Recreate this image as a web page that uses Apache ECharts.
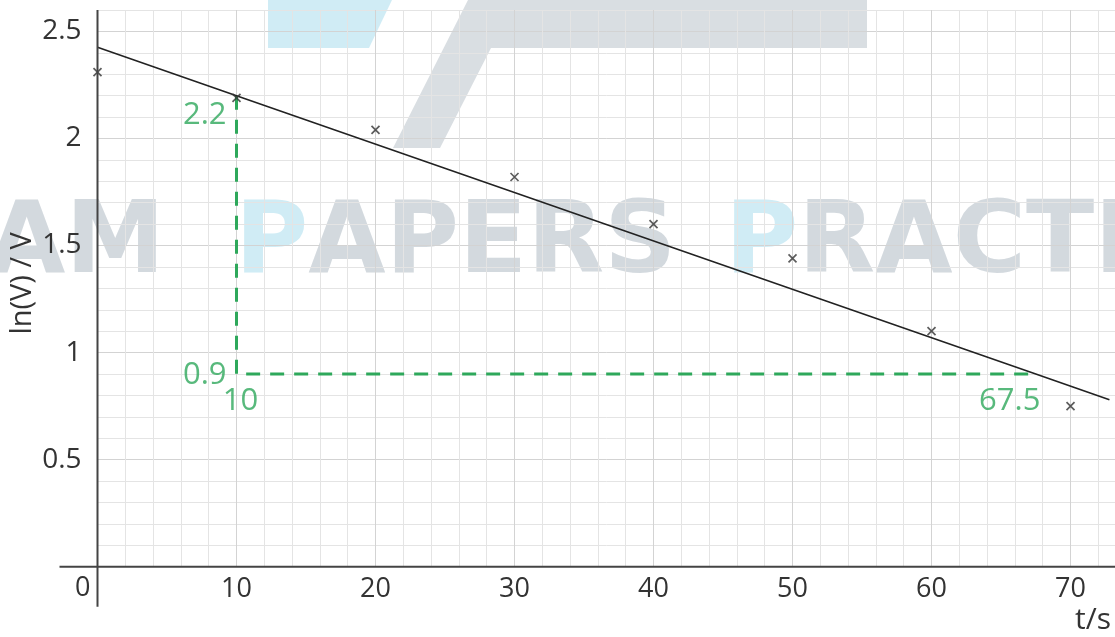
<!DOCTYPE html>
<html>
<head>
<meta charset="utf-8">
<script src="https://cdn.jsdelivr.net/npm/echarts@6/dist/echarts.min.js"></script>
<style>
  html, body { margin: 0; padding: 0; background: #ffffff; }
  #chart { width: 1115px; height: 637px; }
</style>
</head>
<body>
<div id="chart"></div>
<script>
// Measured points: time t (s) and ln(V)
const timeS = [0, 10, 20, 30, 40, 50, 60, 70];
const lnV = [2.31, 2.19, 2.04, 1.82, 1.60, 1.44, 1.10, 0.75];

// Line of best fit, passing through the two points used for the gradient
const fitLine = [[0, 2.426], [10, 2.2], [67.5, 0.9], [72.8, 0.78]];

const gradientGuide = [[10, 2.2], [10, 0.9], [67.5, 0.9]];
const guideLabels = [
  { value: [10, 2.2], text: '2.2' },
  { value: [10, 0.9], text: '0.9' },
  { value: [10, 0.9], text: '10' },
  { value: [67.5, 0.9], text: '67.5' }
];

// Axis ranges, labelled ticks and axis titles
const xRange = [0, 73.2];
const yRange = [0, 2.6];
const xLabelled = [10, 20, 30, 40, 50, 60, 70];
const yLabelled = [0.5, 1, 1.5, 2, 2.5];
const xTitle = 't/s';
const yTitle = 'ln(V) / V';

const TEXT = '#333333';
const GREEN = '#2ea85b';
const FONT = '"Open Sans", "DejaVu Sans", sans-serif';

const chart = echarts.init(document.getElementById('chart'), null, { renderer: 'canvas' });

// label placements relative to each guide point
const labelPlacement = {
  '2.2':  { position: 'left', distance: 10, offset: [0, 20] },
  '0.9':  { position: 'left', distance: 10, offset: [0, 1] },
  '10':   { position: 'bottom', distance: 12, offset: [4, 0] },
  '67.5': { position: 'bottom', distance: 12, offset: [-26, 0] }
};

const gridColors = ['#d3d3d3', '#e4e4e4', '#e4e4e4', '#e4e4e4', '#e4e4e4'];

chart.setOption({
  animation: false,
  backgroundColor: '#ffffff',
  grid: { left: 97.5, right: 0, top: 10, bottom: 70.3, containLabel: false, outerBoundsMode: 'none' },
  xAxis: {
    type: 'value',
    min: xRange[0],
    max: xRange[1],
    interval: 2,
    axisLine: { show: false },
    axisTick: { show: false },
    axisLabel: {
      interval: 0,
      showMaxLabel: false,
      margin: 9,
      color: TEXT,
      fontFamily: FONT,
      fontSize: 27,
      formatter: v => (xLabelled.indexOf(Math.round(v)) >= 0 && Math.abs(v - Math.round(v)) < 1e-6) ? String(Math.round(v)) : ''
    },
    splitLine: { show: true, lineStyle: { color: gridColors, width: 1 } }
  },
  yAxis: {
    type: 'value',
    min: yRange[0],
    max: yRange[1],
    interval: 0.1,
    axisLine: { show: false },
    axisTick: { show: false },
    axisLabel: {
      margin: 16,
      color: TEXT,
      fontFamily: FONT,
      fontSize: 28,
      formatter: v => {
        const r = Math.round(v * 10) / 10;
        return yLabelled.some(t => Math.abs(t - r) < 1e-6) ? String(r) : '';
      }
    },
    splitLine: { show: true, lineStyle: { color: gridColors, width: 1 } }
  },
  series: [
    {
      name: 'best fit',
      type: 'line',
      data: fitLine,
      showSymbol: false,
      symbol: 'none',
      lineStyle: { color: '#222222', width: 1.6 },
      z: 4
    },
    {
      name: 'gradient',
      type: 'line',
      data: gradientGuide,
      showSymbol: false,
      symbol: 'none',
      lineStyle: { color: GREEN, width: 3, type: [14, 10] },
      z: 3
    },
    {
      name: 'ln V',
      type: 'scatter',
      data: timeS.map((t, i) => [t, lnV[i]]),
      symbol: 'path://M0,0L10,10M10,0L0,10',
      symbolSize: 8,
      itemStyle: { color: 'transparent', borderColor: '#333333', borderWidth: 1.7 },
      z: 5
    },
    {
      name: 'gradient values',
      type: 'scatter',
      symbolSize: 0,
      silent: true,
      data: guideLabels.map(g => ({
        value: g.value,
        label: Object.assign({
          show: true,
          formatter: g.text,
          color: GREEN,
          fontFamily: FONT,
          fontSize: 31
        }, labelPlacement[g.text])
      })),
      z: 6
    }
  ]
});

// Axis lines run past the plotting area on both axes; background lettering sits under the grid
const origin = chart.convertToPixel({ gridIndex: 0 }, [0, 0]);
const topLeft = chart.convertToPixel({ gridIndex: 0 }, [0, yRange[1]]);
const rightEnd = chart.convertToPixel({ gridIndex: 0 }, [xRange[1], 0]);
const yMid = (origin[1] + topLeft[1]) / 2;

const WM_GREY = 'rgba(160,172,182,0.46)';
const WM_BLUE = 'rgba(150,212,232,0.45)';
const WM_FONT = 'bold 100px "DejaVu Sans"';

chart.setOption({
  graphic: [
    // background lettering and shapes
    {
      type: 'polygon', z: -10, silent: true,
      shape: { points: [[268, 0], [392, 0], [369, 48], [268, 48]] },
      style: { fill: WM_BLUE }
    },
    {
      type: 'polygon', z: -10, silent: true,
      shape: { points: [[468, 0], [867, 0], [867, 48], [491, 48], [440, 148], [393, 148]] },
      style: { fill: 'rgba(160,172,182,0.4)' }
    },
    {
      type: 'text', z: -10, silent: true,
      x: 165, y: 296,
      style: { text: 'EXAM', font: WM_FONT, fill: WM_GREY, textAlign: 'right', textVerticalAlign: 'bottom' }
    },
    {
      type: 'text', z: -10, silent: true,
      x: 235, y: 296,
      style: {
        text: '{b|P}APERS', font: WM_FONT, fill: WM_GREY, textAlign: 'left', textVerticalAlign: 'bottom',
        rich: { b: { fill: WM_BLUE, font: WM_FONT } }
      }
    },
    {
      type: 'text', z: -10, silent: true,
      x: 725, y: 296,
      style: {
        text: '{b|P}RACTICE', font: WM_FONT, fill: WM_GREY, textAlign: 'left', textVerticalAlign: 'bottom',
        rich: { b: { fill: WM_BLUE, font: WM_FONT } }
      }
    },
    // axes
    {
      type: 'line', z: 20, silent: true,
      shape: { x1: origin[0] - 38, y1: origin[1], x2: rightEnd[0], y2: origin[1] },
      style: { stroke: '#444444', lineWidth: 2 }
    },
    {
      type: 'line', z: 20, silent: true,
      shape: { x1: origin[0], y1: topLeft[1], x2: origin[0], y2: origin[1] + 40 },
      style: { stroke: '#444444', lineWidth: 2 }
    },
    // origin label and axis titles
    {
      type: 'text', z: 20, silent: true,
      x: origin[0] - 7, y: origin[1] + 8,
      style: { text: '0', font: '27px ' + FONT, fill: TEXT, textAlign: 'right', textVerticalAlign: 'top' }
    },
    {
      type: 'text', z: 20, silent: true,
      x: 1111, y: 605,
      style: { text: xTitle, font: '30px ' + FONT, fill: TEXT, textAlign: 'right', textVerticalAlign: 'top' }
    },
    {
      type: 'text', z: 20, silent: true,
      x: 23, y: yMid - 5, rotation: Math.PI / 2,
      style: { text: yTitle, font: '29px ' + FONT, fill: TEXT, textAlign: 'center', textVerticalAlign: 'middle' }
    }
  ]
});
</script>
</body>
</html>
